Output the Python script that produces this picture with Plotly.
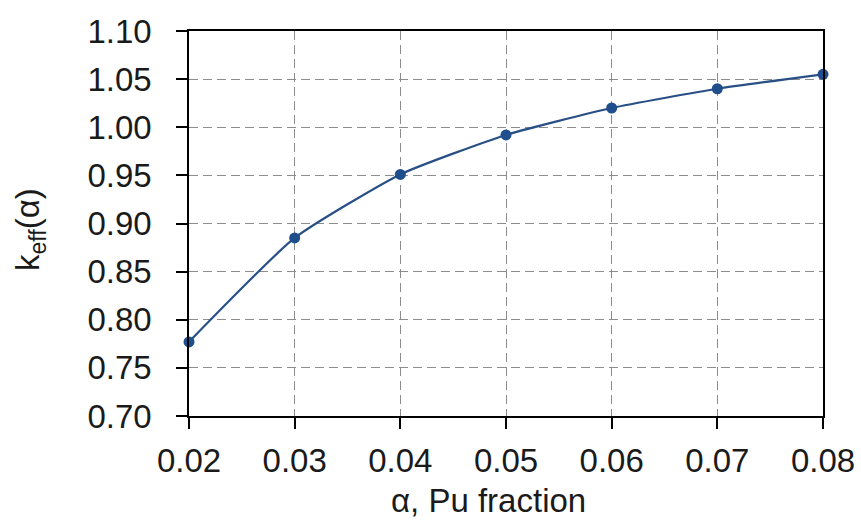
import plotly.graph_objects as go

alpha = [0.02, 0.03, 0.04, 0.05, 0.06, 0.07, 0.08]
keff = [0.777, 0.885, 0.951, 0.992, 1.020, 1.040, 1.055]

x_ticks = [0.02, 0.03, 0.04, 0.05, 0.06, 0.07, 0.08]
y_ticks = [0.70, 0.75, 0.80, 0.85, 0.90, 0.95, 1.00, 1.05, 1.10]

FONT = "Liberation Sans, Arial, sans-serif"
FS = 33

fig = go.Figure()
fig.add_trace(go.Scatter(
    x=alpha, y=keff, mode="lines+markers",
    line=dict(color="#284f86", width=2.2, shape="spline", smoothing=0.5),
    marker=dict(color="#1f4e8c", size=11),
    cliponaxis=False, showlegend=False,
))

fig.update_layout(
    width=861, height=522,
    margin=dict(l=189, r=38, t=31, b=106, autoexpand=False),
    paper_bgcolor="white", plot_bgcolor="white",
    font=dict(family=FONT, size=FS, color="#1a1a1a"),
)
fig.update_xaxes(
    range=[0.02, 0.08], tickvals=x_ticks, ticktext=[f"{v:.2f}" for v in x_ticks],
    showline=True, linecolor="black", linewidth=1.5, mirror=True,
    ticks="outside", ticklen=11, tickwidth=1.5, tickcolor="black",
    showgrid=True, gridcolor="#8c8c8c", gridwidth=1.3, griddash="9px,5px",
    zeroline=False, ticklabelstandoff=4, automargin=False,
)
fig.update_yaxes(
    range=[0.70, 1.10], tickvals=y_ticks, ticktext=[f"{v:.2f}" for v in y_ticks],
    showline=True, linecolor="black", linewidth=1.5, mirror=True,
    ticks="outside", ticklen=11, tickwidth=1.5, tickcolor="black",
    showgrid=True, gridcolor="#8c8c8c", gridwidth=1.3, griddash="9px,5px",
    zeroline=False, ticklabelstandoff=18, automargin=False,
)

fig.add_annotation(
    text="α, Pu fraction", xref="paper", yref="paper",
    x=(488 - 189) / 634, y=-(500 - 416) / 385,
    xanchor="center", yanchor="middle", showarrow=False,
    font=dict(family=FONT, size=FS, color="#1a1a1a"),
)
fig.add_annotation(
    text="k<sub>eff</sub>(α)", xref="paper", yref="paper",
    x=-(189 - 30) / 634, y=(416 - 230) / 385,
    xanchor="center", yanchor="middle", showarrow=False, textangle=-90,
    font=dict(family=FONT, size=FS, color="#1a1a1a"),
)

fig.write_html("out.html")
